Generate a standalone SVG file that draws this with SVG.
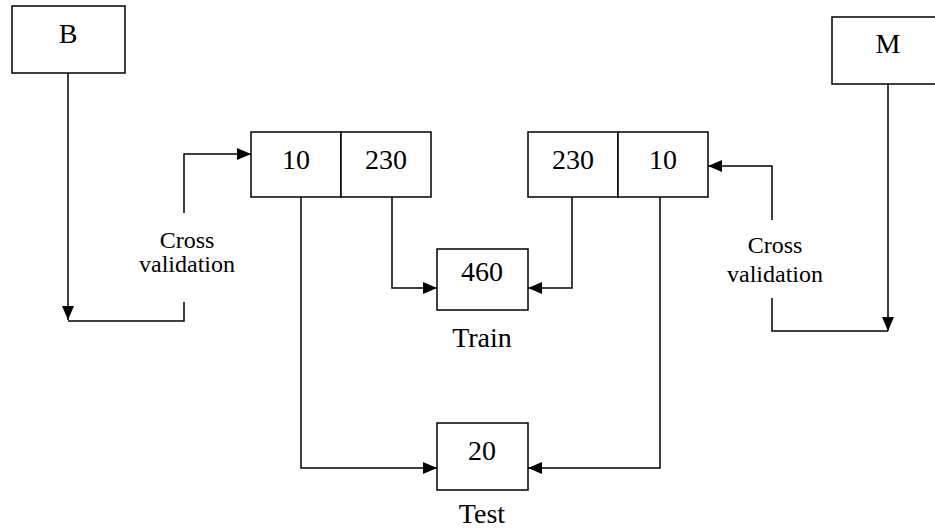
<svg xmlns="http://www.w3.org/2000/svg" width="935" height="531" viewBox="0 0 935 531">
  <style>
    .box { fill: #fff; stroke: #000; stroke-width: 1.5; }
    .lbl { font-family: "Liberation Serif", "Times New Roman", serif; font-size: 28px; fill: #000; text-anchor: middle; }
    .small { font-family: "Liberation Serif", "Times New Roman", serif; font-size: 24px; fill: #000; text-anchor: middle; }
    .wire { fill: none; stroke: #000; stroke-width: 1.5; }
  </style>
  <defs>
    <marker id="arrow" viewBox="0 0 14 12" refX="14" refY="6" markerWidth="14" markerHeight="12" markerUnits="userSpaceOnUse" orient="auto">
      <path d="M0,0 L14,6 L0,12 Z" fill="#000"/>
    </marker>
  </defs>
  <rect width="935" height="531" fill="#fff"/>

  <g id="connectors">
    <!-- B down and around into the left split -->
    <polyline class="wire" points="68,73 68,320" marker-end="url(#arrow)"/>
    <polyline class="wire" points="68,321 184,321 184,302"/>
    <polyline class="wire" points="184,213 184,154 251,154" marker-end="url(#arrow)"/>
    <!-- M down and around into the right split -->
    <polyline class="wire" points="888,84 888,331" marker-end="url(#arrow)"/>
    <polyline class="wire" points="888,331 772,331 772,298"/>
    <polyline class="wire" points="772,220 772,166 708,166" marker-end="url(#arrow)"/>
    <!-- splits to train -->
    <polyline class="wire" points="392,197 392,288 437,288" marker-end="url(#arrow)"/>
    <polyline class="wire" points="572,197 572,288 528,288" marker-end="url(#arrow)"/>
    <!-- splits to test -->
    <polyline class="wire" points="301,197 301,468 437,468" marker-end="url(#arrow)"/>
    <polyline class="wire" points="660,197 660,468 528,468" marker-end="url(#arrow)"/>
  </g>

  <g id="node-b">
    <rect class="box" x="12" y="6" width="113" height="67"/>
    <text class="lbl" x="68" y="43">B</text>
  </g>
  <g id="node-m">
    <rect class="box" x="832" y="17" width="110" height="67"/>
    <text class="lbl" x="888" y="53">M</text>
  </g>

  <g id="node-left-10">
    <rect class="box" x="251" y="132" width="90" height="65"/>
    <text class="lbl" x="296" y="169">10</text>
  </g>
  <g id="node-left-230">
    <rect class="box" x="341" y="132" width="90" height="65"/>
    <text class="lbl" x="386" y="169">230</text>
  </g>
  <g id="node-right-230">
    <rect class="box" x="528" y="132" width="90" height="65"/>
    <text class="lbl" x="573" y="169">230</text>
  </g>
  <g id="node-right-10">
    <rect class="box" x="618" y="132" width="90" height="65"/>
    <text class="lbl" x="663" y="169">10</text>
  </g>

  <g id="node-train">
    <rect class="box" x="437" y="249" width="91" height="61"/>
    <text class="lbl" x="482" y="281">460</text>
    <text class="lbl" x="482" y="347">Train</text>
  </g>
  <g id="node-test">
    <rect class="box" x="437" y="423" width="91" height="67"/>
    <text class="lbl" x="482" y="460">20</text>
    <text class="lbl" x="482" y="523">Test</text>
  </g>

  <g id="label-left">
    <text class="small" x="187" y="248">Cross</text>
    <text class="small" x="187" y="272">validation</text>
  </g>
  <g id="label-right">
    <text class="small" x="775" y="253">Cross</text>
    <text class="small" x="775" y="282">validation</text>
  </g>
</svg>
